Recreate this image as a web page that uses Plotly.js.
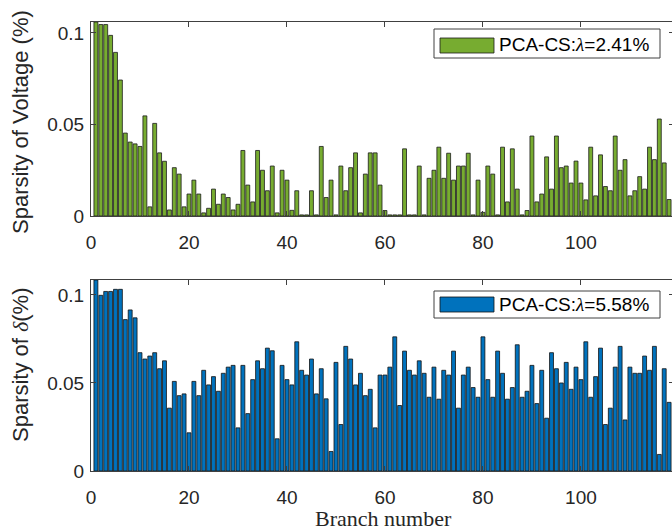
<!DOCTYPE html>
<html>
<head>
<meta charset="utf-8">
<script src="https://cdn.plot.ly/plotly-3.0.1.min.js"></script>
<style>
html,body{margin:0;padding:0;overflow:hidden;background:#fff;}
#chart{width:676px;height:532px;}
</style>
</head>
<body>
<div id="chart"></div>
<script>
// Sparsity of voltage (%) per branch
const voltage = [
 0.106,0.1046,0.1046,0.0987,0.0894,0.0743,0.0453,0.0404,0.0394,0.038,
 0.0547,0.005,0.0506,0.0345,0.0299,0.0033,0.0264,0.0229,0.005,0.012,
 0.0196,0.012,0.0017,0.0042,0.0147,0.0064,0.012,0.0101,0.0033,0.0064,
 0.0358,0.0169,0.0077,0.0358,0.025,0.0138,0.0273,0.0017,0.025,0.0196,
 0.0031,0.0138,0.0006,0.0006,0.0138,0.0006,0.038,0.0101,0.0196,0.0006,
 0.0273,0.0138,0.0264,0.0345,0.0017,0.0229,0.0345,0.0345,0.0169,0.003,
 0.0006,0.0006,0.0006,0.0367,0.0006,0.0006,0.0273,0.0006,0.0206,0.025,
 0.0376,0.0206,0.0343,0.0196,0.0273,0.0273,0.0343,0.0006,0.0196,0.002,
 0.0273,0.0229,0.0006,0.0376,0.0077,0.0367,0.0147,0.0006,0.003,0.0437,
 0.0077,0.012,0.0323,0.0147,0.0437,0.0264,0.0273,0.018,0.03,0.018,
 0.0088,0.0376,0.011,0.0334,0.0161,0.0138,0.0437,0.025,0.0308,0.011,
 0.0138,0.0215,0.0147,0.0376,0.0308,0.053,0.029,0.009
];
// Sparsity of delta (%) per branch
const delta = [
 0.1085,0.0998,0.102,0.102,0.1032,0.1032,0.086,0.0915,0.087,0.0672,
 0.0636,0.0653,0.0672,0.0581,0.0626,0.0357,0.0509,0.0428,0.0438,0.0217,
 0.0509,0.0428,0.0572,0.0489,0.0536,0.0453,0.0555,0.059,0.06,0.0245,
 0.06,0.0326,0.0519,0.0626,0.0581,0.0698,0.0683,0.0183,0.06,0.0519,
 0.0489,0.0734,0.0572,0.0545,0.0636,0.0438,0.0581,0.041,0.0111,0.0617,
 0.0264,0.0708,0.0636,0.0489,0.0555,0.0428,0.0464,0.0245,0.0545,0.0545,
 0.059,0.0762,0.0372,0.0681,0.0572,0.0545,0.0626,0.0555,0.0419,0.059,
 0.0408,0.0572,0.0545,0.0681,0.0357,0.0545,0.059,0.0474,0.0419,0.0762,
 0.0519,0.0419,0.0681,0.0555,0.0408,0.0474,0.0717,0.0419,0.0453,0.06,
 0.0383,0.0572,0.03,0.0672,0.0581,0.05,0.0617,0.0464,0.059,0.0519,
 0.0734,0.0419,0.0536,0.0698,0.0264,0.0357,0.059,0.0708,0.029,0.059,
 0.0555,0.0555,0.0653,0.0572,0.0708,0.0094,0.0581,0.039
];
const branches = voltage.map((_, i) => i + 1);
const xTicks = [0, 20, 40, 60, 80, 100, 120];
const yTicks = [0, 0.05, 0.1];
const yTickText = ['0', '0.05', '0.1'];
const legendVoltage = 'PCA-CS:<span style="font-family:\'Liberation Serif\';font-style:italic">λ</span>=2.41%';
const legendDelta = 'PCA-CS:<span style="font-family:\'Liberation Serif\';font-style:italic">λ</span>=5.58%';

const green = '#77AC30';
const blue = '#0072BD';
const axisColor = '#404040';
const tickFont = {family: 'Liberation Sans, Arial, sans-serif', size: 19, color: '#262626'};

const traces = [
  {type: 'bar', x: branches, y: voltage, xaxis: 'x', yaxis: 'y', width: 0.8,
   marker: {color: green, line: {color: '#1a1a1a', width: 0.8}}, name: 'PCA-CS', showlegend: false},
  {type: 'bar', x: branches, y: delta, xaxis: 'x2', yaxis: 'y2', width: 0.8,
   marker: {color: blue, line: {color: '#111111', width: 0.8}}, name: 'PCA-CS', showlegend: false}
];

function xAx(anchor) {
  return {anchor: anchor, range: [0, 119], tickmode: 'array', tickvals: xTicks,
    ticktext: xTicks.map(String), ticks: 'inside', ticklen: 5, tickcolor: axisColor,
    showline: true, linecolor: axisColor, linewidth: 1, mirror: 'allticks',
    showgrid: false, zeroline: false, tickfont: tickFont, ticklabelstandoff: 9};
}
function yAx(anchor, domain, top) {
  return {anchor: anchor, domain: domain, range: [0, top], tickmode: 'array', tickvals: yTicks,
    ticktext: yTickText, ticks: 'inside', ticklen: 5, tickcolor: axisColor,
    showline: true, linecolor: axisColor, linewidth: 1, mirror: 'allticks',
    showgrid: false, zeroline: false, tickfont: tickFont, ticklabelstandoff: 2};
}

const H = 449, W = 583;
const py = p => (471 - p) / H;   // pixel y -> paper
const px = p => (p - 91) / W;    // pixel x -> paper

const layout = {
  width: 676, height: 532,
  margin: {l: 91, r: 2, t: 22, b: 61},
  paper_bgcolor: '#fff', plot_bgcolor: '#fff',
  bargap: 0.2,
  xaxis: xAx('y'),
  yaxis: yAx('x', [py(216), 1], 0.106),
  xaxis2: xAx('y2'),
  yaxis2: yAx('x2', [0, py(280)], 0.1085),
  shapes: [
    {type: 'rect', xref: 'paper', yref: 'paper', x0: px(434), x1: px(660), y0: py(58), y1: py(29),
     fillcolor: '#fff', line: {color: axisColor, width: 1}},
    {type: 'rect', xref: 'paper', yref: 'paper', x0: px(440), x1: px(494), y0: py(53), y1: py(38),
     fillcolor: green, line: {color: '#1a1a1a', width: 0.8}},
    {type: 'rect', xref: 'paper', yref: 'paper', x0: px(434), x1: px(660), y0: py(318), y1: py(291),
     fillcolor: '#fff', line: {color: axisColor, width: 1}},
    {type: 'rect', xref: 'paper', yref: 'paper', x0: px(440), x1: px(494), y0: py(312), y1: py(297),
     fillcolor: blue, line: {color: '#111', width: 0.8}}
  ],
  annotations: [
    {xref: 'paper', yref: 'paper', x: px(497), y: py(44), xanchor: 'left', yanchor: 'middle',
     text: legendVoltage, showarrow: false, font: {family: 'Liberation Sans, Arial, sans-serif', size: 19, color: '#000'}},
    {xref: 'paper', yref: 'paper', x: px(497), y: py(304), xanchor: 'left', yanchor: 'middle',
     text: legendDelta, showarrow: false, font: {family: 'Liberation Sans, Arial, sans-serif', size: 19, color: '#000'}},
    {xref: 'paper', yref: 'paper', x: px(20), y: py(122), xanchor: 'center', yanchor: 'middle',
     textangle: -90, text: 'Sparsity of Voltage (%)', showarrow: false,
     font: {family: 'Liberation Sans, Arial, sans-serif', size: 22, color: '#262626'}},
    {xref: 'paper', yref: 'paper', x: px(20), y: py(365), xanchor: 'center', yanchor: 'middle',
     textangle: -90, text: 'Sparsity of <span style="font-family:\'Liberation Serif\';font-style:italic">δ</span>(%)', showarrow: false,
     font: {family: 'Liberation Sans, Arial, sans-serif', size: 22, color: '#262626'}},
    {xref: 'paper', yref: 'paper', x: px(383), y: py(518), xanchor: 'center', yanchor: 'middle',
     text: 'Branch number', showarrow: false,
     font: {family: 'Liberation Serif, Times New Roman, serif', size: 22, color: '#262626'}}
  ]
};

Plotly.newPlot('chart', traces, layout, {displayModeBar: false, staticPlot: true});
</script>
</body>
</html>
